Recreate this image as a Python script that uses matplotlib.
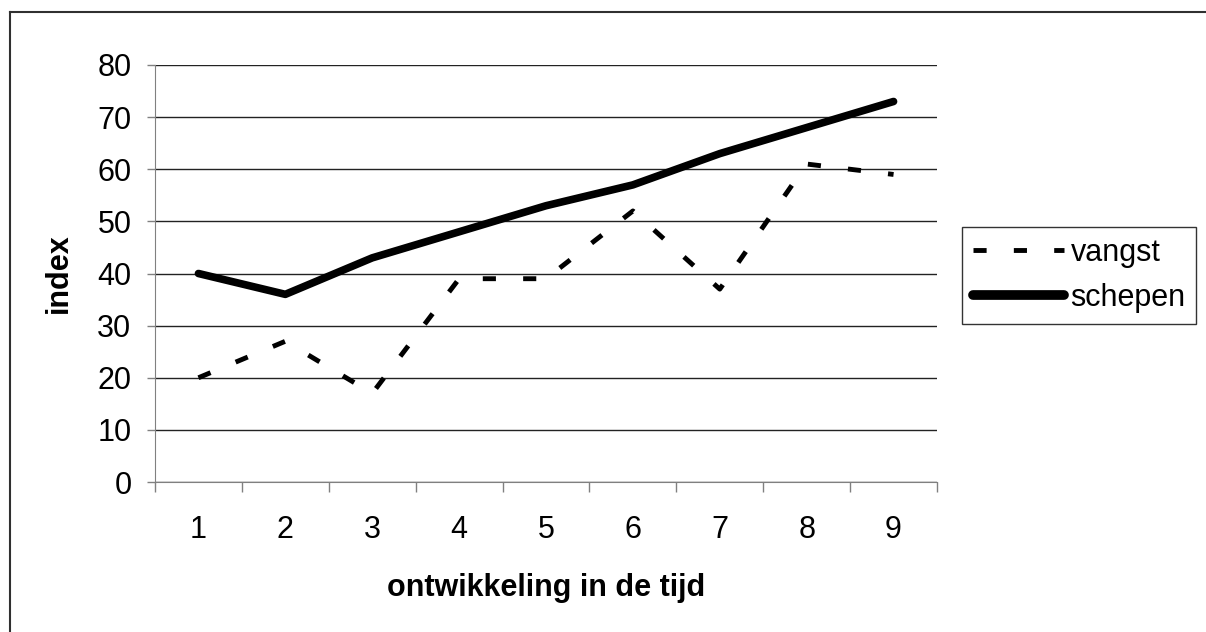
import matplotlib.pyplot as plt
from matplotlib.lines import Line2D

plt.rcParams['font.family'] = ['Liberation Sans', 'DejaVu Sans']

# data
periods = ['1', '2', '3', '4', '5', '6', '7', '8', '9']
vangst = [20, 27, 17, 39, 39, 52, 37, 61, 59]
schepen = [40, 36, 43, 48, 53, 57, 63, 68, 73]
yticks = [0, 10, 20, 30, 40, 50, 60, 70, 80]

FS = 22

fig = plt.figure(figsize=(12.06, 6.32), dpi=100)
ax = fig.add_axes([155 / 1206, 1 - 482 / 632, (937 - 155) / 1206, (482 - 65) / 632])

x = list(range(len(periods)))
ax.plot(x, vangst, color='black', lw=3.5, linestyle=(0, (2.7, 5.6)),
        dash_capstyle='butt', label='vangst')
ax.plot(x, schepen, color='black', lw=5.5, solid_capstyle='round', label='schepen')

ax.set_xlim(-0.5, len(periods) - 0.5)
ax.set_ylim(0, 80)
ax.set_yticks(yticks)
ax.set_xticks(x)
ax.set_xticklabels(periods)
ax.set_xticks([i - 0.5 for i in range(len(periods) + 1)], minor=True)
ax.tick_params(axis='x', which='major', length=0, labelsize=FS, pad=24)
ax.tick_params(axis='x', which='minor', length=7, width=1, color='#808080', direction='out')
ax.tick_params(axis='y', length=6, width=1, color='#808080', labelsize=FS, pad=11)

ax.grid(axis='y', color='#222222', lw=1)
ax.set_axisbelow(True)
for s in ['top', 'right']:
    ax.spines[s].set_visible(False)
for s in ['left', 'bottom']:
    ax.spines[s].set_color('#808080')

ax.set_ylabel('index', fontsize=FS, fontweight='bold', labelpad=17)
ax.set_xlabel('ontwikkeling in de tijd', fontsize=FS, fontweight='bold', labelpad=20)

leg = ax.legend(loc='upper left', bbox_to_anchor=(962 / 1206, 1 - 227 / 632),
                bbox_transform=fig.transFigure, fontsize=FS, frameon=True,
                fancybox=False, edgecolor='black', handlelength=3.0,
                handletextpad=0.2, borderpad=0.35, labelspacing=0.5, borderaxespad=0)
leg.get_frame().set_linewidth(1)
for h in leg.get_lines():
    if h.get_label() == 'schepen':
        h.set_linewidth(7)

# outer chart border (top and left visible)
fig.add_artist(Line2D([10 / 1206, 1.0], [1 - 12 / 632, 1 - 12 / 632],
                      transform=fig.transFigure, color='#303030', lw=1.5))
fig.add_artist(Line2D([10 / 1206, 10 / 1206], [1 - 12 / 632, 0.0],
                      transform=fig.transFigure, color='#303030', lw=1.5))

fig.savefig('out.png', dpi=100)
